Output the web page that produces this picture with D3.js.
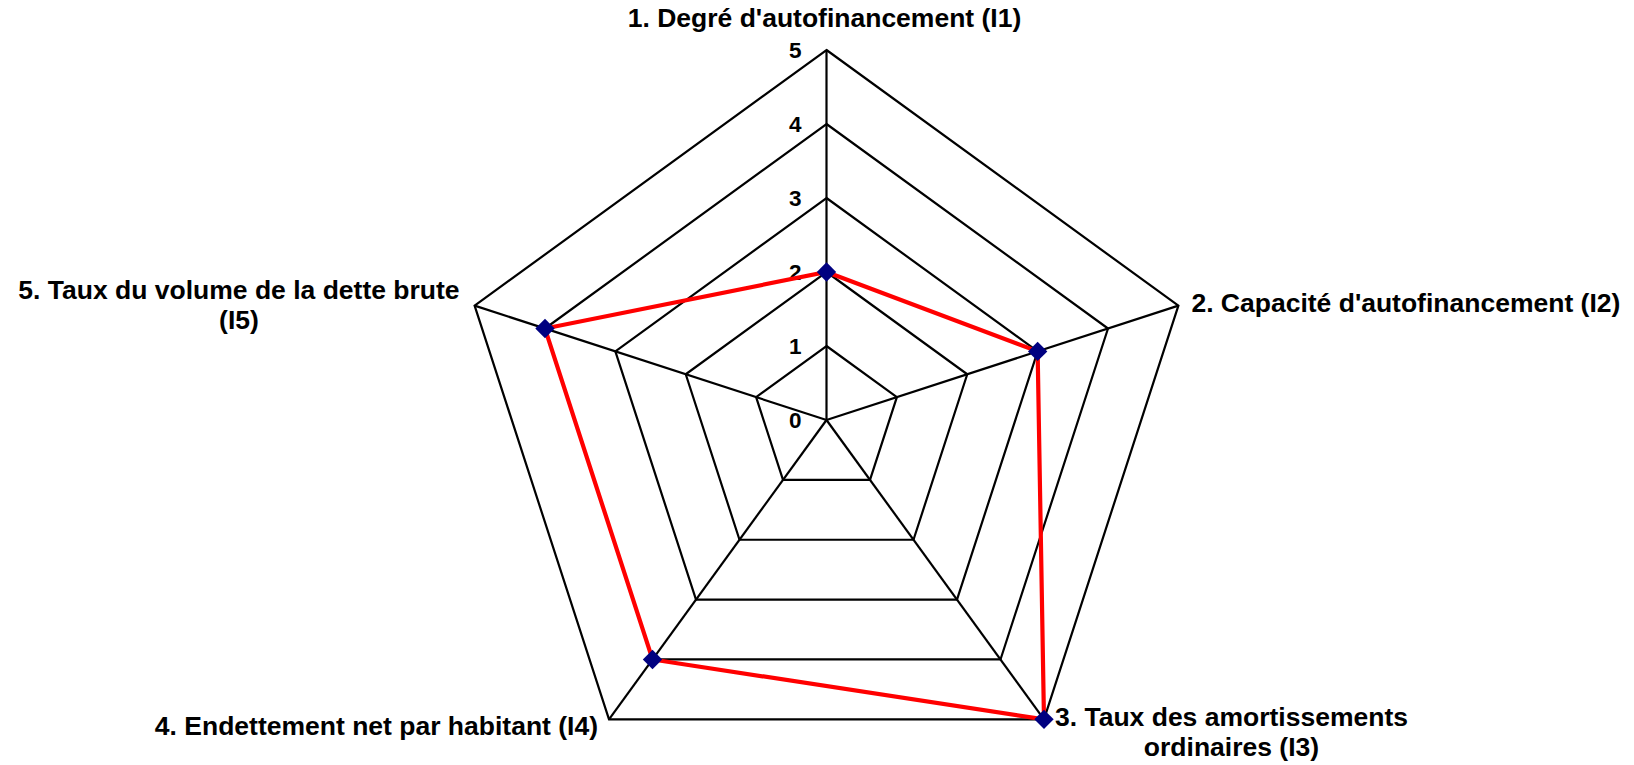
<!doctype html>
<html lang="fr">
<head>
  <meta charset="utf-8">
  <script src="https://cdnjs.cloudflare.com/ajax/libs/d3/7.8.5/d3.min.js"></script>
  <style>
    html, body {width:100%; height:100%; margin:0px; padding:0px; background:#fff;}
    svg {display:block;}
    .lbl {font-family:"Liberation Sans", Arial, sans-serif; font-weight:bold; font-size:26.5px; fill:#000;}
    .tick {font-family:"Liberation Sans", Arial, sans-serif; font-weight:bold; font-size:22.5px; fill:#000;}
  </style>
</head>
<body>
<div id="view"></div>
<script>
// indicateurs (axes), in clockwise order from the top
var categories = [
  ["1. Degré d'autofinancement (I1)"],
  ["2. Capacité d'autofinancement (I2)"],
  ["3. Taux des amortissements", "ordinaires (I3)"],
  ["4. Endettement net par habitant (I4)"],
  ["5. Taux du volume de la dette brute", "(I5)"]
];
var values = [2, 3, 5, 4, 4];
var tickLabels = [0, 1, 2, 3, 4, 5];

var width = 1634, height = 765;
var cx = 826.5, cy = 420, R = 370;

var svg = d3.select('#view').append('svg')
    .attr('width', width)
    .attr('height', height);

var r = d3.scaleLinear().domain([0, 5]).range([0, R]);
var angle = d3.scaleLinear().domain([0, categories.length]).range([0, 2 * Math.PI]);

var g = svg.append('g').attr('transform', 'translate(' + cx + ',' + cy + ')');

function pt(i, v) {
  var a = angle(i);
  return [r(v) * Math.sin(a), -r(v) * Math.cos(a)];
}

// grid pentagons
var ring = d3.lineRadial()
    .angle(function(d, i) { return angle(i); })
    .radius(function(d) { return r(d); })
    .curve(d3.curveLinearClosed);

g.selectAll('path.grid')
  .data(tickLabels.slice(1))
  .enter().append('path')
    .attr('class', 'grid')
    .attr('d', function(t) { return ring(categories.map(function() { return t; })); })
    .attr('fill', 'none')
    .attr('stroke', '#000')
    .attr('stroke-width', 2.2);

// spokes
g.selectAll('line.spoke')
  .data(categories)
  .enter().append('line')
    .attr('class', 'spoke')
    .attr('x1', 0).attr('y1', 0)
    .attr('x2', function(d, i) { return pt(i, 5)[0]; })
    .attr('y2', function(d, i) { return pt(i, 5)[1]; })
    .attr('stroke', '#000')
    .attr('stroke-width', 2.2);

// tick labels along first axis
g.selectAll('text.tick')
  .data(tickLabels)
  .enter().append('text')
    .attr('class', 'tick')
    .attr('x', -25)
    .attr('y', function(d) { return -r(d) + 8; })
    .attr('text-anchor', 'end')
    .text(function(d) { return d; });

// data series
g.append('path')
    .attr('d', ring(values))
    .attr('fill', 'none')
    .attr('stroke', '#FF0000')
    .attr('stroke-width', 4.2)
    .attr('stroke-linejoin', 'miter');

g.selectAll('path.marker')
  .data(values)
  .enter().append('path')
    .attr('class', 'marker')
    .attr('d', d3.symbol().type(d3.symbolDiamond2).size(240))
    .attr('transform', function(d, i) { var p = pt(i, d); return 'translate(' + p[0] + ',' + p[1] + ')'; })
    .attr('fill', '#000080');

// category labels: [anchor, dx, dy] relative to the outer vertex
var place = [
  ['middle', -2, -23],
  ['start', 13, 6],
  ['start', 11, 6.5],
  ['end', -11, 16],
  ['end', -15, -6.7]
];
var lineH = 30;

categories.forEach(function(lines, i) {
  var v = pt(i, 5);
  var t = g.append('text').attr('class', 'lbl').attr('text-anchor', 'middle');
  lines.forEach(function(s, k) {
    t.append('tspan').attr('x', 0).attr('dy', k === 0 ? 0 : lineH).text(s);
  });
  var w = t.node().getBBox().width;
  var p = place[i];
  var x = v[0] + p[1];
  if (p[0] === 'start') x += w / 2;
  if (p[0] === 'end') x -= w / 2;
  t.attr('transform', 'translate(' + x + ',' + (v[1] + p[2]) + ')');
});
</script>
</body>
</html>
